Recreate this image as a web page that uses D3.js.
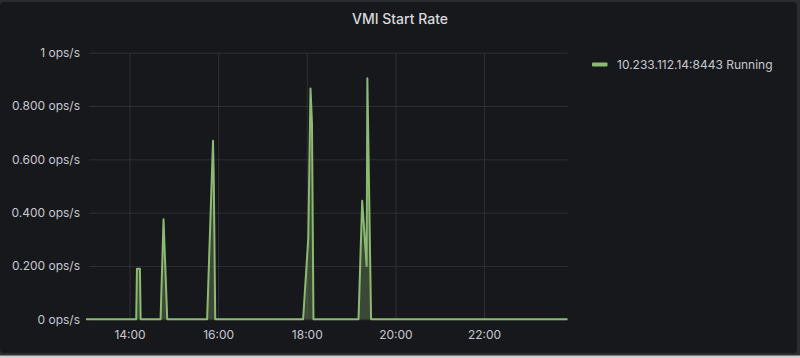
<!DOCTYPE html>
<html>
<head>
<meta charset="utf-8">
<script src="https://cdn.jsdelivr.net/npm/d3@7"></script>
<style>
  html, body { margin: 0; padding: 0; background: #0e0f11; }
  svg { display: block; }
  text { font-family: Inter, Roboto, "Noto Sans", sans-serif; }
</style>
</head>
<body>
<svg id="chart" width="800" height="358"></svg>
<script>
// ---- data ----
const title = "VMI Start Rate";
const seriesName = "10.233.112.14:8443 Running";
// sample times (HH:MM) and values (ops/s)
const times = ["13:01","14:09","14:10","14:14","14:15","14:42","14:46","14:51",
  "15:45","15:53","15:54","15:56",
  "17:55","18:02","18:05","18:07","18:09",
  "19:10","19:15","19:21","19:22","19:27","23:53"];
const values = [0,0,0.19,0.19,0,0,0.375,0,
  0,0.67,0.53,0,
  0,0.304,0.866,0.736,0,
  0,0.445,0.2,0.904,0,0];
const yTicks = [0,0.2,0.4,0.6,0.8,1];
const yTickLabels = ["0 ops/s","0.200 ops/s","0.400 ops/s","0.600 ops/s","0.800 ops/s","1 ops/s"];
const xTickLabels = ["14:00","16:00","18:00","20:00","22:00"];
const domainStart = "13:01", domainEnd = "23:53";

// ---- drawing ----
const parse = s => { const [h,m] = s.split(":").map(Number); return new Date(2024,0,1,h,m); };
const data = times.map((t,i) => ({t: parse(t), v: values[i]}));

const svg = d3.select("#chart");
const W = 800, H = 358;
const plot = {left: 86, right: 567.5, top: 52.7, bottom: 319.3};

// frame/panel
svg.append("rect").attr("x",0).attr("y",0).attr("width",W).attr("height",H).attr("fill","#2b2c2f");
svg.append("rect").attr("x",0).attr("y",2).attr("width",797).attr("height",351).attr("rx",4)
  .attr("fill","#17181c");
svg.append("rect").attr("x",0).attr("y",355.5).attr("width",W).attr("height",3).attr("fill","#cfcfcf");

const x = d3.scaleTime().domain([parse(domainStart), parse(domainEnd)]).range([plot.left, plot.right]);
const y = d3.scaleLinear().domain([0,1]).range([plot.bottom, plot.top]);

// title
svg.append("text").attr("x",400).attr("y",24).attr("text-anchor","middle")
  .attr("fill","#d8d9de").attr("font-size",14).attr("font-weight",500).text(title);

const gridColor = "#2e3035";
// horizontal grid
const yAxis = d3.axisLeft(y).tickValues(yTicks).tickSize(-(plot.right-plot.left-3)).tickPadding(9)
  .tickFormat((d,i) => yTickLabels[i]);
const gy = svg.append("g").attr("transform",`translate(${plot.left+3},0)`).call(yAxis);
gy.select(".domain").remove();
gy.selectAll(".tick line").attr("stroke",gridColor).attr("stroke-width",1);
gy.selectAll(".tick text").attr("fill","#c7c8cf").attr("font-size",12).attr("x",-9);

// vertical grid
const xTicks = xTickLabels.map(parse);
const xAxis = d3.axisBottom(x).tickValues(xTicks).tickSize(-(plot.bottom-plot.top)).tickPadding(9)
  .tickFormat(d3.timeFormat("%H:%M"));
const gx = svg.append("g").attr("transform",`translate(0,${plot.bottom})`).call(xAxis);
gx.select(".domain").remove();
gx.selectAll(".tick line").attr("stroke",gridColor).attr("stroke-width",1);
gx.selectAll(".tick text").attr("fill","#c7c8cf").attr("font-size",12).attr("dy","0.9em");

const lineColor = "#8dba72";
const area = d3.area().x(d => x(d.t)).y0(y(0)).y1(d => y(d.v));
const line = d3.line().x(d => x(d.t)).y(d => y(d.v));
svg.append("path").datum(data).attr("d",area).attr("fill",lineColor).attr("fill-opacity",0.3);
svg.append("path").datum(data).attr("d",line).attr("fill","none")
  .attr("stroke",lineColor).attr("stroke-width",2).attr("stroke-linejoin","round");

// legend
svg.append("rect").attr("x",592).attr("y",62.5).attr("width",15.5).attr("height",4).attr("rx",1)
  .attr("fill",lineColor);
svg.append("text").attr("x",617).attr("y",68.5).attr("fill","#c7c8cf").attr("font-size",12)
  .text(seriesName);
</script>
</body>
</html>
